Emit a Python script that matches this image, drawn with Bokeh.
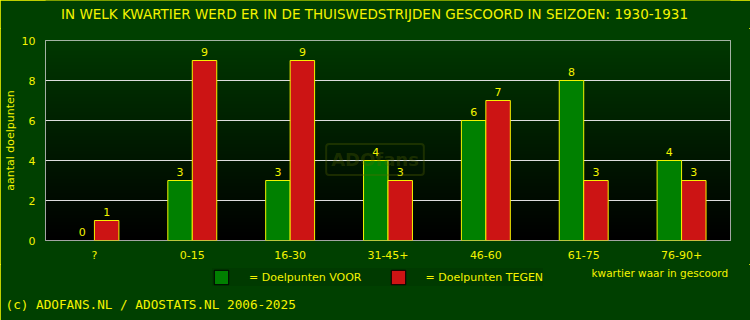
import numpy as np
from bokeh.plotting import figure
from bokeh.layouts import column
from bokeh.models import Range1d, FixedTicker, Label, Legend, LegendItem, ColumnDataSource, Title
from bokeh.transform import dodge
from bokeh.core.properties import value
from bokeh.embed import file_html
from bokeh.resources import INLINE

categories = ["?", "0-15", "16-30", "31-45+", "46-60", "61-75", "76-90+"]
goals_for = [0, 3, 3, 4, 6, 8, 4]
goals_against = [1, 9, 9, 3, 7, 3, 3]
y_ticks = [0, 2, 4, 6, 8, 10]

title_text = "IN WELK KWARTIER WERD ER IN DE THUISWEDSTRIJDEN GESCOORD IN SEIZOEN: 1930-1931"
y_label = "aantal doelpunten"
x_label = "kwartier waar in gescoord"
legend_for = "= Doelpunten VOOR"
legend_against = "= Doelpunten TEGEN"
copyright_text = "(c) ADOFANS.NL / ADOSTATS.NL 2006-2025"
watermark = "ADOfans"

YELLOW = "#f4f400"
GREEN = "#008000"
RED = "#cc1414"
BG = "#004000"
FONT = "DejaVu Sans"
LEFT, RIGHT = 45, 730  # frame edges shared by all stacked figures


def strip(height, frame_h, **kw):
    f = figure(width=750, height=height, output_backend="svg", toolbar_location=None,
               x_range=Range1d(LEFT, RIGHT), y_range=Range1d(frame_h, 0),
               x_axis_location=None, y_axis_location=None,
               min_border_left=LEFT, min_border_right=750 - RIGHT, min_border_top=0,
               border_fill_color=BG, background_fill_color=BG,
               outline_line_color=None, **kw)
    f.grid.visible = False
    return f


# top strip: title
top = strip(28, 28, min_border_bottom=0)
top.add_layout(Label(x=374, y=13, text=title_text,
                     text_align="center", text_baseline="middle", text_color=YELLOW,
                     text_font=FONT, text_font_size="13.5px"))

xs = list(range(len(categories)))
source = ColumnDataSource(dict(
    x=xs,
    voor=goals_for,
    tegen=goals_against,
    voor_lbl=[str(v) for v in goals_for],
    tegen_lbl=[str(v) for v in goals_against],
    voor_la=[0.0 if v == 0 else 1.0 for v in goals_for],
    tegen_la=[0.0 if v == 0 else 1.0 for v in goals_against],
))

p = figure(width=750, height=236, output_backend="svg", toolbar_location=None,
           x_range=Range1d(-0.5, len(categories) - 0.5), y_range=Range1d(0, 10),
           min_border_left=LEFT, min_border_right=750 - RIGHT, min_border_top=12,
           min_border_bottom=24,
           border_fill_color=BG, background_fill_color="#000000",
           outline_line_color="#dddddd", outline_line_width=1)

# vertical gradient background of the plot area
n = 200
t = np.linspace(0.0, 1.0, n)
img = np.zeros((n, 1), dtype=np.uint32)
view = img.view(dtype=np.uint8).reshape((n, 1, 4))
view[:, 0, 0] = 0
view[:, 0, 1] = (t * 56).astype(np.uint8)
view[:, 0, 2] = 0
view[:, 0, 3] = 255
p.image_rgba(image=[img], x=-0.5, y=0, dw=len(categories), dh=10, level="image")

p.vbar(x=dodge("x", -0.125), top="voor", width=0.25, source=source,
       fill_color=GREEN, line_color=YELLOW, line_width=1, line_alpha="voor_la")
p.vbar(x=dodge("x", 0.125), top="tegen", width=0.25, source=source,
       fill_color=RED, line_color=YELLOW, line_width=1, line_alpha="tegen_la")

p.text(x=dodge("x", -0.125), y="voor", text="voor_lbl", source=source,
       text_align="center", text_baseline="bottom", y_offset=-5,
       text_color=YELLOW, text_font=value(FONT), text_font_size="11px")
p.text(x=dodge("x", 0.125), y="tegen", text="tegen_lbl", source=source,
       text_align="center", text_baseline="bottom", y_offset=-5,
       text_color=YELLOW, text_font=value(FONT), text_font_size="11px")

# axes
p.xaxis.ticker = FixedTicker(ticks=xs)
p.xaxis.major_label_overrides = {i: c for i, c in enumerate(categories)}
p.yaxis.ticker = FixedTicker(ticks=y_ticks)
for ax in (p.xaxis[0], p.yaxis[0]):
    ax.axis_line_color = None
    ax.major_tick_line_color = None
    ax.minor_tick_line_color = None
    ax.major_tick_in = 0
    ax.major_tick_out = 0
    ax.major_label_text_color = YELLOW
    ax.major_label_text_font = FONT
    ax.major_label_text_font_size = "11px"
p.xaxis.major_label_standoff = 8
p.yaxis.major_label_standoff = 10
p.yaxis.axis_label = y_label
p.yaxis.axis_label_text_color = YELLOW
p.yaxis.axis_label_text_font = FONT
p.yaxis.axis_label_text_font_size = "11px"
p.yaxis.axis_label_text_font_style = "normal"
p.yaxis.axis_label_standoff = 2

p.xgrid.grid_line_color = None
p.ygrid.grid_line_color = "#dddddd"
p.ygrid.grid_line_width = 1

p.add_layout(Label(x=3.0, y=5.0, text=watermark,
                   text_align="center", text_baseline="middle", text_color="#5a6a00",
                   text_alpha=0.3, text_font=FONT, text_font_size="18px",
                   text_font_style="bold", border_line_color="#5a6a00", border_line_alpha=0.3,
                   border_line_width=2, padding=5, border_radius=3,
                   x_offset=-13, y_offset=-19))

# bottom strip: legend, axis caption, copyright (as a title below)
b = strip(56, 30, min_border_bottom=26)
b.add_layout(Title(text=copyright_text, align="left", offset=-40, standoff=0,
                   text_color=YELLOW, text_font="DejaVu Sans Mono",
                   text_font_size="12.7px", text_font_style="normal"), "below")

nan = float("nan")
d_for = b.quad(left=[nan], right=[nan], top=[nan], bottom=[nan],
               fill_color=GREEN, line_color="#000000")
d_against = b.quad(left=[nan], right=[nan], top=[nan], bottom=[nan],
                   fill_color=RED, line_color="#000000")
legend = Legend(items=[LegendItem(label=legend_for, renderers=[d_for]),
                       LegendItem(label=legend_against, renderers=[d_against])],
                orientation="horizontal", location=(167, 8),
                glyph_width=18, glyph_height=18, label_height=18,
                label_standoff=19, spacing=27,
                padding=5, margin=0,
                background_fill_color="#003a00", background_fill_alpha=1.0,
                border_line_color=None,
                label_text_color=YELLOW, label_text_font=FONT, label_text_font_size="11px")
b.add_layout(legend, "center")

b.add_layout(Label(x=591, y=8, text=x_label,
                   text_align="left", text_baseline="middle", text_color=YELLOW,
                   text_font=FONT, text_font_size="10.5px"))

layout = column(top, p, b, spacing=0)
layout.styles = {"outline": "1px solid #ffff00", "outline-offset": "-1px",
                 "background-color": BG}

open("out.html", "w").write(file_html(layout, INLINE))
